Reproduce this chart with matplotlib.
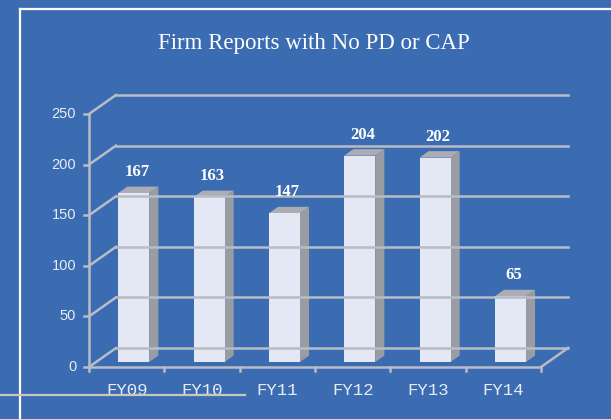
import matplotlib
matplotlib.use("Agg")
import matplotlib.pyplot as plt
from matplotlib.patches import Polygon
from matplotlib.lines import Line2D

categories = ["FY09", "FY10", "FY11", "FY12", "FY13", "FY14"]
values = [167, 163, 147, 204, 202, 65]
yticks = [0, 50, 100, 150, 200, 250]
title = "Firm Reports with No PD or CAP"

BG = "#3b6cb1"
GRID = "#b8bcc6"
FACE = "#e3e8f4"
SIDE = "#9a9ca3"
TOP = "#aaadb3"
TXT = "#e6ebf5"

W, H = 611, 419
fig = plt.figure(figsize=(W / 100, H / 100), dpi=100)
fig.patch.set_facecolor(BG)

# front plane of the 3d box in pixels
left, right, bottom, top = 89, 541, 367, 114
ax = fig.add_axes([left / W, 1 - bottom / H, (right - left) / W, (bottom - top) / H])
ax.set_xlim(-0.5, len(categories) - 0.5)
ax.set_ylim(0, 250)
ax.axis("off")

# depth offset for full box depth, in data units
px_x = (right - left) / len(categories)
px_y = (bottom - top) / 250
DX = 27 / px_x
DY = 19 / px_y
x0, x1 = -0.5, len(categories) - 0.5


def pt(x, y, z):
    return (x + z * DX, y + z * DY)


lw = 1.8
# back wall gridlines + left wall diagonals
for v in yticks:
    ax.add_line(Line2D(*zip(pt(x0, v, 1), pt(x1, v, 1)), color=GRID, lw=lw, clip_on=False))
    ax.add_line(Line2D(*zip(pt(x0, v, 0), pt(x0, v, 1)), color=GRID, lw=lw, clip_on=False))
    ax.add_line(Line2D([x0 - 0.07, x0], [v, v], color=GRID, lw=lw, clip_on=False))
    ax.text(x0 - 0.17, v, str(v), ha="right", va="center", color=TXT,
            fontsize=10.5, family="Liberation Sans")

# floor and front axis
ax.add_line(Line2D([x0, x1], [0, 0], color=GRID, lw=lw, clip_on=False))
ax.add_line(Line2D(*zip(pt(x1, 0, 0), pt(x1, 0, 1)), color=GRID, lw=lw, clip_on=False))
ax.add_line(Line2D([x0, x0], [0, 250], color=GRID, lw=lw, clip_on=False))
for i in range(len(categories) + 1):
    ax.add_line(Line2D([x0 + i, x0 + i], [0, -4], color=GRID, lw=lw, clip_on=False))
for i, c in enumerate(categories):
    ax.text(i, -23, c, ha="center", va="center", color=TXT,
            fontsize=12.5, family="Liberation Mono")

# bars
zf, zb = 0.26, 0.60
bw = 31 / px_x
for i, v in enumerate(values):
    a, b = i - bw / 2, i + bw / 2
    side = [pt(b, 0, zf), pt(b, v, zf), pt(b, v, zb), pt(b, 0, zb)]
    topf = [pt(a, v, zf), pt(b, v, zf), pt(b, v, zb), pt(a, v, zb)]
    front = [pt(a, 0, zf), pt(b, 0, zf), pt(b, v, zf), pt(a, v, zf)]
    ax.add_patch(Polygon(side, closed=True, fc=SIDE, ec="none", clip_on=False))
    ax.add_patch(Polygon(topf, closed=True, fc=TOP, ec="none", clip_on=False))
    ax.add_patch(Polygon(front, closed=True, fc=FACE, ec="none", clip_on=False))
    lx, ly = pt(i, v, (zf + zb) / 2)
    ax.annotate(str(v), (lx, ly), xytext=(-1, 7), textcoords="offset points",
                ha="center", va="bottom", color="white", fontsize=12,
                fontweight="bold", family="Liberation Serif")

fig.text(314 / W, 1 - 44 / H, title, ha="center", va="center", color="white",
         fontsize=16.5, family="Liberation Serif")

# slide frame lines
fig.add_artist(Line2D([20 / W, 1], [1 - 9 / H, 1 - 9 / H], color="white", lw=1.6))
fig.add_artist(Line2D([20 / W, 20 / W], [0, 1 - 9 / H], color="white", lw=1.6))
fig.add_artist(Line2D([0, 245 / W], [1 - 395 / H, 1 - 395 / H], color="#cbc7bf", lw=1.6))

fig.savefig("out.png", dpi=100, facecolor=fig.get_facecolor())
